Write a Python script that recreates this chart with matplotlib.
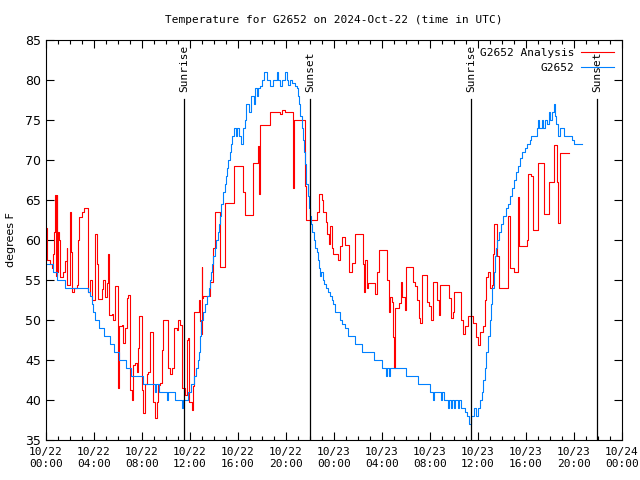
import numpy as np
import matplotlib
matplotlib.use("Agg")
import matplotlib.pyplot as plt
from matplotlib.ticker import MultipleLocator

# hours since 2024-10-22 00:00 UTC
obs_hours = [0.0, 0.6, 0.9, 1.6, 3.5, 3.65, 3.8, 3.95, 4.1, 4.4, 4.8, 5.3, 5.7, 6.1, 6.7, 7.05,
             8.1, 9.1, 9.2, 9.4, 10.1, 10.2, 10.75, 11.3, 11.4, 11.8, 12.1, 12.3, 12.5, 12.65,
             12.75, 12.85, 12.95, 13.1, 13.25, 13.4, 13.55, 13.65, 13.75, 13.85, 13.95, 14.1,
             14.2, 14.3, 14.4, 14.5, 14.6, 14.75, 14.9, 15.0, 15.1, 15.2, 15.35, 15.45, 15.5,
             15.7, 15.85, 15.95, 16.1, 16.25, 16.45, 16.6, 16.7, 16.9, 17.05, 17.3, 17.45,
             17.56, 17.7, 17.83, 17.97, 18.17, 18.39, 18.67, 18.94, 19.22, 19.36, 19.5, 19.64,
             19.92, 20.06, 20.19, 20.33, 20.47, 20.75, 20.9, 21.0, 21.1, 21.2, 21.3, 21.4,
             21.5, 21.6, 21.7, 21.8, 21.9, 22.0, 22.1, 22.2, 22.3, 22.4, 22.55, 22.65, 22.75,
             22.85, 22.95, 23.05, 23.15, 23.3, 23.5, 23.65, 23.8, 23.95, 24.05, 24.5, 24.7,
             24.9, 25.2, 25.75, 26.3, 27.3, 28.0, 28.3, 28.4, 28.6, 28.7, 30.0, 31.0, 32.0,
             32.25, 32.35, 32.9, 33.0, 33.15, 33.5, 33.6, 33.75, 33.85, 34.0, 34.1, 34.3,
             34.4, 34.6, 34.9, 35.1, 35.25, 35.45, 35.65, 35.8, 36.0, 36.15, 36.3, 36.45,
             36.55, 36.7, 36.85, 37.0, 37.1, 37.2, 37.3, 37.4, 37.5, 37.6, 37.75, 37.9, 38.1,
             38.3, 38.5, 38.7, 38.85, 39.0, 39.15, 39.3, 39.5, 39.7, 39.9, 40.1, 40.3, 40.45,
             40.9, 41.0, 41.1, 41.3, 41.4, 41.6, 41.75, 41.9, 42.0, 42.15, 42.3, 42.4, 42.5,
             42.7, 42.85, 43.15, 43.85, 44.0, 44.7]
obs_temp = [57, 56, 55, 54, 53.5, 53, 52, 51, 50, 49, 48, 47, 46, 45, 44, 43,
            42, 41, 42, 41, 40, 41, 40, 39, 40, 41, 42, 43, 44, 45,
            46, 48, 50, 51, 52, 53, 54, 55, 56, 57, 58, 59,
            60, 61, 62, 63, 64.5, 66, 67, 68, 69, 70, 71, 72, 73,
            74, 73, 74, 73, 72, 74, 75, 77, 76, 78, 77, 79,
            78, 79, 79.2, 80, 81, 80, 79.2, 80, 81, 80, 79.2, 80,
            81, 80, 79.4, 80, 79.6, 79.2, 79, 78, 77, 75.5, 74, 72.5,
            71, 69.5, 67, 65.5, 64, 63, 62, 61, 60, 59, 58.5, 57.5, 56.5,
            55.5, 56, 55, 54.5, 54, 53.5, 53, 52.5, 52, 51, 50, 49.5,
            49, 48, 47, 46, 45, 44, 43, 44, 43, 44, 43, 42, 41,
            40, 41, 40, 41, 40, 39, 40, 39, 40, 39, 40, 39,
            40, 39, 38.5, 38, 37, 38, 39, 38, 39, 40, 41, 42.5,
            44, 46, 48, 50, 52, 54, 56, 58, 59, 60, 61, 62, 63,
            64, 64.5, 65.5, 66.5, 67.5, 68.5, 69.2, 70.2, 71, 71.5, 72, 72.5, 73,
            74, 75, 74, 75, 74, 75, 74.5, 76, 75, 76, 77, 75.5, 74.5,
            73, 74, 73, 72.5, 72, 72]

ana_hours = [0.0, 0.06, 0.3, 0.5, 0.61, 0.7, 0.75, 0.8, 0.9, 0.95, 1.03, 1.1, 1.17, 1.44,
             1.58, 1.72, 1.76, 2.0, 2.1, 2.19, 2.3, 2.56, 2.69, 2.78, 3.0, 3.15, 3.47, 3.67,
             3.81, 4.08, 4.22, 4.36, 4.64, 4.78, 4.92, 5.06, 5.14, 5.28, 5.47, 5.61, 5.75,
             6.03, 6.1, 6.31, 6.44, 6.58, 6.72, 6.86, 7.0, 7.14, 7.28, 7.42, 7.56, 7.69,
             7.78, 7.97, 8.11, 8.25, 8.39, 8.53, 8.67, 8.94, 9.08, 9.22, 9.36, 9.5, 9.64,
             9.72, 10.19, 10.33, 10.47, 10.69, 10.89, 11.03, 11.17, 11.31, 11.58, 11.72,
             11.86, 11.94, 12.14, 12.22, 12.33, 12.78, 12.83, 12.92, 12.97, 13.03, 13.11,
             13.67, 13.89, 13.94, 14.08, 14.5, 14.92, 15.7, 16.44, 16.55, 17.28, 17.7,
             17.75, 17.83, 18.67, 19.5, 19.7, 19.9, 20.6, 20.7, 21.58, 21.7, 22.56, 22.6,
             22.78, 22.97, 23.1, 23.33, 23.44, 23.55, 23.67, 23.8, 23.94, 24.3, 24.5, 24.7,
             24.92, 25.28, 25.5, 25.75, 26.44, 26.5, 26.6, 26.72, 26.85, 27.42, 27.6, 27.78,
             28.44, 28.55, 28.65, 28.8, 28.95, 29.0, 29.1, 29.4, 29.6, 29.7, 29.9, 30.0,
             30.61, 30.75, 30.95, 31.06, 31.2, 31.36, 31.72, 31.9, 32.06, 32.22, 32.61,
             32.72, 32.83, 33.61, 33.72, 33.9, 34.03, 34.58, 34.78, 34.95, 35.19, 35.61,
             35.8, 36.03, 36.2, 36.4, 36.58, 36.7, 36.86, 37.0, 37.15, 37.28, 37.33, 37.6,
             37.78, 38.53, 38.65, 39.03, 39.36, 39.45, 40.06, 40.17, 40.4, 40.6, 41.0, 41.5,
             41.95, 42.3, 42.55, 42.65, 42.8, 43.6]
ana_temp = [61.5, 57.5, 57, 56.5, 58.3, 61, 65.6, 55.5, 65.6, 56, 61, 60, 55.4, 56,
            57.4, 59, 54.4, 63.5, 58.5, 53.5, 54, 54.4, 60, 62.9, 63.5, 64, 53.5, 55,
            52.5, 60.8, 57, 52.6, 53.9, 55, 52.9, 54.6, 58.3, 50.6, 50.8, 50, 54.2,
            41.5, 49.2, 49.4, 47.1, 49, 52.7, 53.1, 41.25, 40, 44.4, 44.6, 43.5, 46.5,
            50.5, 41.25, 38.4, 42, 43.3, 43.5, 48.5, 39.8, 37.8, 39.8, 41.9, 42.1, 46.25,
            50, 44, 43.3, 44, 49, 48.8, 50, 49.4, 41.5, 40.6, 47.5,
            47.7, 39.8, 38.7, 41.7, 51, 52.5, 49.9, 48.2, 56.6, 52.7, 53,
            54.8, 58, 59, 63.5, 56.6, 64.6, 69.2, 66, 63.1, 69.6, 71.7,
            65.8, 74.4, 76, 75.8, 76.2, 76, 66.5, 75, 66.7, 62.5, 62.7, 63.5,
            65.8, 65, 63.5, 62.3, 60.8, 59.5, 61.7, 59, 58.3, 57.5, 59.2, 60.4,
            59.4, 56, 57.1, 60.8, 57, 53.5, 57.5, 54, 54.6, 53.3, 56, 58.75,
            55, 51, 52.9, 52.3, 47.9, 44, 51.5, 52.1, 54.8, 52.9, 51.25, 56.6,
            54.8, 54.2, 52.5, 50.2, 49.6, 55.6, 52.3, 51.7, 50, 54.7, 52.5,
            50.6, 54.4, 52.7, 50.2, 51, 53.5, 50, 48.3, 49.2, 50.5, 49.6,
            47.9, 46.9, 48.5, 49.2, 52.5, 55.4, 56, 54, 54.4, 58.3, 62, 58,
            54, 63, 56.5, 56, 65.4, 59.2, 60, 68.3, 68, 61.25, 69.6, 63.3,
            67.3, 71.9, 67.3, 62.1, 70.9, 70.9]

sun_hours = [11.5, 22.0, 35.42, 45.9]
sun_labels = ["Sunrise", "Sunset", "Sunrise", "Sunset"]

xtick_labels = ["10/22\n00:00", "10/22\n04:00", "10/22\n08:00", "10/22\n12:00",
                "10/22\n16:00", "10/22\n20:00", "10/23\n00:00", "10/23\n04:00",
                "10/23\n08:00", "10/23\n12:00", "10/23\n16:00", "10/23\n20:00",
                "10/24\n00:00"]

mono = "DejaVu Sans Mono"

fig = plt.figure(figsize=(6.4, 4.8), dpi=100)
ax = fig.add_axes([46 / 640, 40 / 480, 576 / 640, 400 / 480])

ax.plot(ana_hours, ana_temp, drawstyle="steps-post", color="#ff0000", lw=0.8,
        label="G2652 Analysis")
ax.plot(obs_hours, obs_temp, drawstyle="steps-post", color="#0080ff", lw=0.8,
        label="G2652")

for h, lab in zip(sun_hours, sun_labels):
    ax.axvline(h, ymin=0, ymax=0.8525, color="black", lw=0.9)
    ax.text(h, 0.87, lab, transform=ax.get_xaxis_transform(), rotation=90,
            ha="center", va="bottom", fontsize=8, family=mono)

ax.set_xlim(0, 48)
ax.set_ylim(35, 85)
ax.set_xticks(np.arange(0, 49, 4))
ax.set_xticklabels(xtick_labels, family=mono, fontsize=8, linespacing=1.3)
ax.xaxis.set_minor_locator(MultipleLocator(1))
ax.set_yticks(np.arange(35, 86, 5))
ax.tick_params(axis="y", labelsize=9)
ax.tick_params(which="both", direction="in", top=True, right=True, width=0.8)
ax.tick_params(which="major", length=6)
ax.tick_params(which="minor", length=3)
ax.tick_params(axis="x", pad=5)

# y label placed by hand so it stays inside the 640 px canvas
fig.text(11 / 640, 0.5, "degrees F", rotation=90, ha="center", va="center", fontsize=8)
ax.set_title("Temperature for G2652 on 2024-Oct-22 (time in UTC)", family=mono,
             fontsize=8, pad=12)

ax.legend(loc="upper right", frameon=False, prop={"family": mono, "size": 8},
          markerfirst=False, handlelength=3.0, borderaxespad=0.3, labelspacing=0.45,
          handletextpad=0.6)

fig.savefig("out.png", dpi=100)
